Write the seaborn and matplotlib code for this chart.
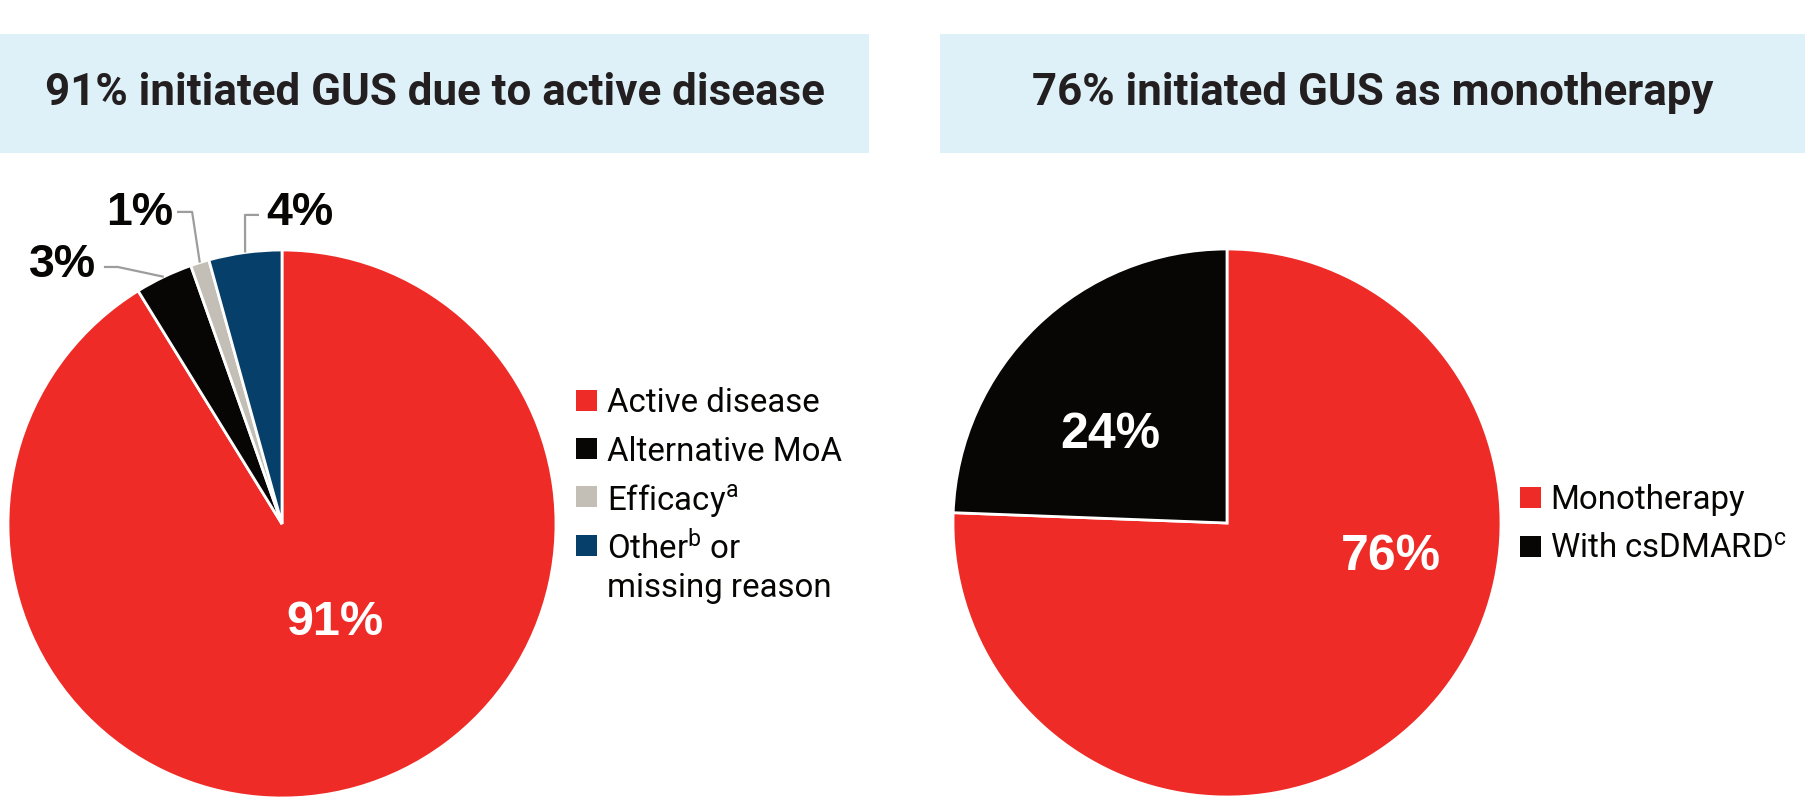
import matplotlib
matplotlib.use("Agg")
import matplotlib.pyplot as plt
from matplotlib.patches import Rectangle
import numpy as np
import seaborn as sns

# ---- data ----
left_title = "91% initiated GUS due to active disease"
right_title = "76% initiated GUS as monotherapy"
left_cats = ["Active disease", "Alternative MoA", "Efficacy$^{\\mathrm{a}}$", "Other$^{\\mathrm{b}}$ or\nmissing reason"]
left_vals = [91.2, 3.4, 1.1, 4.3]
right_cats = ["Monotherapy", "With csDMARD$^{\\mathrm{c}}$"]
right_vals = [75.6, 24.4]

RED = "#ee2b26"
BLACK = "#070605"
GRAY = "#c4bfb6"
NAVY = "#063f6a"
left_colors = [RED, BLACK, GRAY, NAVY]
right_colors = [RED, BLACK]

sns.set_theme(style="white")
plt.rcParams["font.family"] = ["Roboto", "DejaVu Sans"]
plt.rcParams["mathtext.fontset"] = "custom"
plt.rcParams["mathtext.rm"] = "Roboto"
plt.rcParams["mathtext.it"] = "Roboto:italic"
plt.rcParams["mathtext.bf"] = "Roboto:bold"

W, H = 1805, 800
fig = plt.figure(figsize=(W / 100, H / 100), dpi=100)
fig.patch.set_facecolor("white")

TXT = "#231f20"
NUMFONT = ["Liberation Sans", "DejaVu Sans"]

def fx(px):
    return px / W

def fy(py):
    return 1 - py / H

# header boxes
for x0, x1, title in [(0, 869, left_title), (940, 1805, right_title)]:
    fig.add_artist(Rectangle((fx(x0), fy(153)), fx(x1 - x0), (153 - 34) / H,
                             transform=fig.transFigure, facecolor="#dff1f8", edgecolor="none", zorder=0))
    fig.text(fx((x0 + x1) / 2), fy(93), title, ha="center", va="center",
             fontsize=31.6, fontweight="bold", color=TXT)

R = 274

def pie_axes(cx, cy):
    return fig.add_axes([fx(cx - R), fy(cy + R), fx(2 * R), 2 * R / H])

# ---- left pie ----
axl = pie_axes(282, 524)
wl, _ = axl.pie(left_vals, colors=left_colors, startangle=90, counterclock=False,
                wedgeprops=dict(edgecolor="white", linewidth=2))
axl.set_xlim(-1, 1)
axl.set_ylim(-1, 1)
axl.set_aspect("equal")
axl.axis("off")

labels_l = [f"{v:.0f}%" for v in left_vals]
axl.text(0.192, -0.358, labels_l[0], ha="center", va="center", color="white",
         fontsize=35, fontweight="bold", family=NUMFONT)

# outside labels with leader lines: (text pos, elbow pos, text-side pos)
outside = {
    1: ((-0.80, 0.945), (-0.599, 0.938), (-0.650, 0.938)),
    2: ((-0.518, 1.135), (-0.328, 1.139), (-0.383, 1.139)),
    3: ((0.066, 1.135), (-0.135, 1.128), (-0.084, 1.128)),
}
for i, (tpos, elbow, tside) in outside.items():
    w = wl[i]
    mid = np.deg2rad((w.theta1 + w.theta2) / 2)
    end = (np.cos(mid), np.sin(mid))
    axl.plot([tside[0], elbow[0], end[0]], [tside[1], elbow[1], end[1]],
             color="#9d9d9d", lw=1.6, clip_on=False, solid_capstyle="butt", zorder=3)
    axl.text(tpos[0], tpos[1], labels_l[i], ha="center", va="center", color=BLACK,
             fontsize=33.5, fontweight="bold", family=NUMFONT, clip_on=False)

# ---- right pie ----
axr = pie_axes(1227, 523)
wr, _ = axr.pie(right_vals, colors=right_colors, startangle=90, counterclock=False,
                wedgeprops=dict(edgecolor="white", linewidth=2))
axr.set_xlim(-1, 1)
axr.set_ylim(-1, 1)
axr.set_aspect("equal")
axr.axis("off")
labels_r = [f"{v:.0f}%" for v in right_vals]
axr.text(0.599, -0.124, labels_r[0], ha="center", va="center", color="white",
         fontsize=36, fontweight="bold", family=NUMFONT)
axr.text(-0.427, 0.321, labels_r[1], ha="center", va="center", color="white",
         fontsize=36, fontweight="bold", family=NUMFONT)

# ---- legends ----
def legend(x_sq, x_txt, rows, cats, colors, linegap=40):
    for yy, cat, col in zip(rows, cats, colors):
        lines = cat.split("\n")
        fig.add_artist(Rectangle((fx(x_sq), fy(yy + 10.5)), fx(21), 21 / H,
                                 transform=fig.transFigure, facecolor=col, edgecolor="none"))
        for k, ln in enumerate(lines):
            fig.text(fx(x_txt), fy(yy + k * linegap), ln, ha="left", va="center_baseline",
                     fontsize=23.8, color=BLACK)

legend(576, 607, [400, 448, 496, 545], left_cats, left_colors)
legend(1520, 1550, [497, 546], right_cats, right_colors)

fig.savefig("out.png", dpi=100, facecolor="white")
